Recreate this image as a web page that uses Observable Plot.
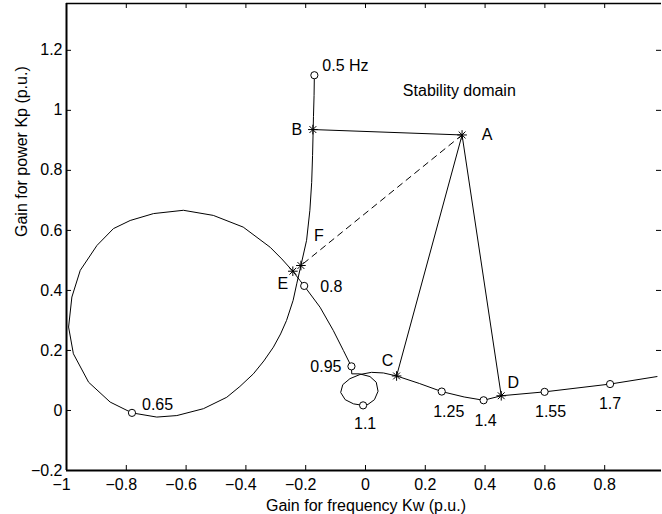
<!DOCTYPE html>
<html>
<head>
<meta charset="utf-8">
<script src="https://cdn.jsdelivr.net/npm/d3@7"></script>
<script src="https://cdn.jsdelivr.net/npm/@observablehq/plot@0.6"></script>
<style>
  html, body { margin: 0; padding: 0; background: #fff; }
  #chart svg { display: block; overflow: visible; }
</style>
</head>
<body>
<div id="chart"></div>
<script>
// ---- Data ----
// Frequency locus of the stability boundary (Kw, Kp), frequency increasing from 0.5 Hz
const curveKw = [
  -0.171, -0.172, -0.174, -0.175, -0.177, -0.180, -0.186, -0.197, -0.216,
  -0.230, -0.242, -0.264, -0.284, -0.308, -0.340, -0.375, -0.420, -0.464,
  -0.542, -0.631, -0.698, -0.781, -0.854, -0.926, -0.977, -0.993, -0.982,
  -0.954, -0.898, -0.843, -0.787, -0.709, -0.609, -0.509, -0.409, -0.319,
  -0.280, -0.243, -0.219, -0.205, -0.152, -0.108, -0.074, -0.052, -0.047,
  -0.046, -0.020, 0.015, 0.036, 0.042, 0.030, 0.008, -0.008, -0.040,
  -0.068, -0.083, -0.076, -0.052, -0.018, 0.020, 0.060, 0.104, 0.180,
  0.255, 0.330, 0.395, 0.454, 0.599, 0.818, 0.975
];
const curveKp = [
  1.117, 1.050, 0.980, 0.936, 0.850, 0.760, 0.667, 0.567, 0.483,
  0.422, 0.367, 0.300, 0.255, 0.211, 0.165, 0.122, 0.080, 0.044,
  0.006, -0.017, -0.022, -0.008, 0.028, 0.094, 0.189, 0.278, 0.378,
  0.467, 0.550, 0.606, 0.633, 0.656, 0.667, 0.650, 0.611, 0.544,
  0.505, 0.464, 0.433, 0.415, 0.344, 0.267, 0.200, 0.156, 0.147,
  0.122, 0.122, 0.113, 0.094, 0.064, 0.036, 0.020, 0.017, 0.022,
  0.036, 0.060, 0.086, 0.106, 0.120, 0.127, 0.125, 0.115, 0.090,
  0.063, 0.045, 0.034, 0.049, 0.062, 0.088, 0.113
];

// Frequency markers (circles)
const freqLabels = ["0.5 Hz", "0.65", "0.8", "0.95", "1.1", "1.25", "1.4", "1.55", "1.7"];
const freqKw = [-0.171, -0.781, -0.205, -0.047, -0.008, 0.255, 0.395, 0.599, 0.818];
const freqKp = [1.117, -0.008, 0.415, 0.147, 0.017, 0.063, 0.034, 0.062, 0.088];

// Stability-domain corner points (stars)
const pointNames = ["A", "B", "C", "D", "E", "F"];
const pointKw = [0.323, -0.176, 0.104, 0.454, -0.243, -0.216];
const pointKp = [0.918, 0.936, 0.115, 0.049, 0.464, 0.483];

// Domain edges (solid) and the dashed segment
const solidEdges = [["B", "A"], ["A", "C"], ["A", "D"]];
const dashedEdges = [["A", "F"]];

// Free annotation
const noteText = ["Stability domain"];
const noteKw = [0.125];
const noteKp = [1.064];

// Axes
const xTicks = [-1, -0.8, -0.6, -0.4, -0.2, 0, 0.2, 0.4, 0.6, 0.8];
const yTicks = [-0.2, 0, 0.2, 0.4, 0.6, 0.8, 1, 1.2];
const xDomain = [-1, 0.99];
const yDomain = [-0.2, 1.356];
const xTitle = "Gain for frequency Kw (p.u.)";
const yTitle = "Gain for power Kp (p.u.)";

// ---- Build tables ----
const curve = curveKw.map((x, i) => ({x, y: curveKp[i]}));
const freqs = freqLabels.map((label, i) => ({label, x: freqKw[i], y: freqKp[i]}));
const points = pointNames.map((name, i) => ({name, x: pointKw[i], y: pointKp[i]}));
const P = Object.fromEntries(points.map(p => [p.name, p]));
const segs = edges => edges.flatMap(([a, b], i) => [{...P[a], k: i}, {...P[b], k: i}]);

// label offsets (pixels) relative to their marker
const freqOffset = {
  "0.5 Hz": {dx: 8, dy: -9, anchor: "start"},
  "0.65": {dx: 10, dy: -8, anchor: "start"},
  "0.8": {dx: 16, dy: 1, anchor: "start"},
  "0.95": {dx: -10, dy: 1, anchor: "end"},
  "1.1": {dx: 2, dy: 19, anchor: "middle"},
  "1.25": {dx: 7, dy: 20, anchor: "middle"},
  "1.4": {dx: 2, dy: 21, anchor: "middle"},
  "1.55": {dx: 6, dy: 20, anchor: "middle"},
  "1.7": {dx: 0, dy: 20, anchor: "middle"}
};
const pointOffset = {
  A: {dx: 25, dy: 0}, B: {dx: -16, dy: 0}, C: {dx: -9, dy: -15},
  D: {dx: 12, dy: -13}, E: {dx: -10, dy: 13}, F: {dx: 18, dy: -30}
};

const fmt = d => String(d).replace("-", "\u2212");
const W = 662, H = 514, mL = 66, mR = 1, mT = 3, mB = 44;
const plotW = W - mL - mR, plotH = H - mT - mB;
const tickLen = 5;

const chart = Plot.plot({
  width: W, height: H,
  marginLeft: mL, marginRight: mR, marginTop: mT, marginBottom: mB,
  x: {domain: xDomain, axis: null},
  y: {domain: yDomain, axis: null},
  style: {fontFamily: "'Liberation Sans', Arial, Helvetica, sans-serif", fontSize: "16px", background: "#fff", color: "#000"},
  marks: [
    // frame
    Plot.ruleX([xDomain[0]], {stroke: "#000", strokeWidth: 2}),
    Plot.ruleY([yDomain[0]], {stroke: "#000", strokeWidth: 2}),
    Plot.ruleY([yDomain[1]], {stroke: "#000", strokeWidth: 1.5}),
    // inward ticks
    Plot.ruleX(xTicks.filter(t => t !== xDomain[0]), {x: d => d, insetTop: plotH - tickLen, stroke: "#000"}),
    Plot.ruleX(xTicks.filter(t => t !== xDomain[0]), {x: d => d, insetBottom: plotH - tickLen, stroke: "#000"}),
    Plot.ruleY(yTicks.filter(t => t !== yDomain[0]), {y: d => d, insetRight: plotW - tickLen, stroke: "#000"}),
    Plot.ruleY(yTicks.filter(t => t !== yDomain[0]), {y: d => d, insetLeft: plotW - tickLen, stroke: "#000"}),
    // tick labels
    Plot.text(xTicks.filter(t => t >= 0), {x: d => d, text: fmt, frameAnchor: "bottom", dy: 14, lineAnchor: "middle"}),
    Plot.text(xTicks.filter(t => t < 0), {x: d => d, text: fmt, frameAnchor: "bottom", dy: 14, dx: -5, lineAnchor: "middle"}),
    Plot.text(yTicks, {y: d => d, text: fmt, frameAnchor: "left", textAnchor: "end", dx: -4, lineAnchor: "middle"}),
    // axis titles
    Plot.text([xTitle], {text: d => d, frameAnchor: "bottom", dy: 35, dx: 2, lineAnchor: "middle"}),
    Plot.text([yTitle], {text: d => d, frameAnchor: "left", dx: -45, rotate: -90, lineAnchor: "middle"}),
    // locus
    Plot.line(curve, {x: "x", y: "y", stroke: "#000", strokeWidth: 1}),
    // domain edges
    Plot.line(segs(solidEdges), {x: "x", y: "y", z: "k", stroke: "#000", strokeWidth: 1}),
    Plot.line(segs(dashedEdges), {x: "x", y: "y", z: "k", stroke: "#000", strokeWidth: 1, strokeDasharray: "6,5"}),
    // markers
    Plot.dot(freqs, {x: "x", y: "y", r: 3.6, stroke: "#000", fill: "#fff", strokeWidth: 1}),
    Plot.dot(points, {x: "x", y: "y", symbol: "plus", r: 3.2, stroke: "#000", strokeWidth: 1}),
    Plot.dot(points, {x: "x", y: "y", symbol: "times", r: 3.2, stroke: "#000", strokeWidth: 1}),
    // labels
    ...freqs.map(f => Plot.text([f], {x: "x", y: "y", text: "label",
      dx: freqOffset[f.label].dx, dy: freqOffset[f.label].dy, textAnchor: freqOffset[f.label].anchor, lineAnchor: "middle"})),
    ...points.map(p => Plot.text([p], {x: "x", y: "y", text: "name",
      dx: pointOffset[p.name].dx, dy: pointOffset[p.name].dy, lineAnchor: "middle"})),
    Plot.text(noteText, {x: (d, i) => noteKw[i], y: (d, i) => noteKp[i], text: d => d, textAnchor: "start", lineAnchor: "middle"})
  ]
});
document.getElementById("chart").appendChild(chart);
</script>
</body>
</html>
